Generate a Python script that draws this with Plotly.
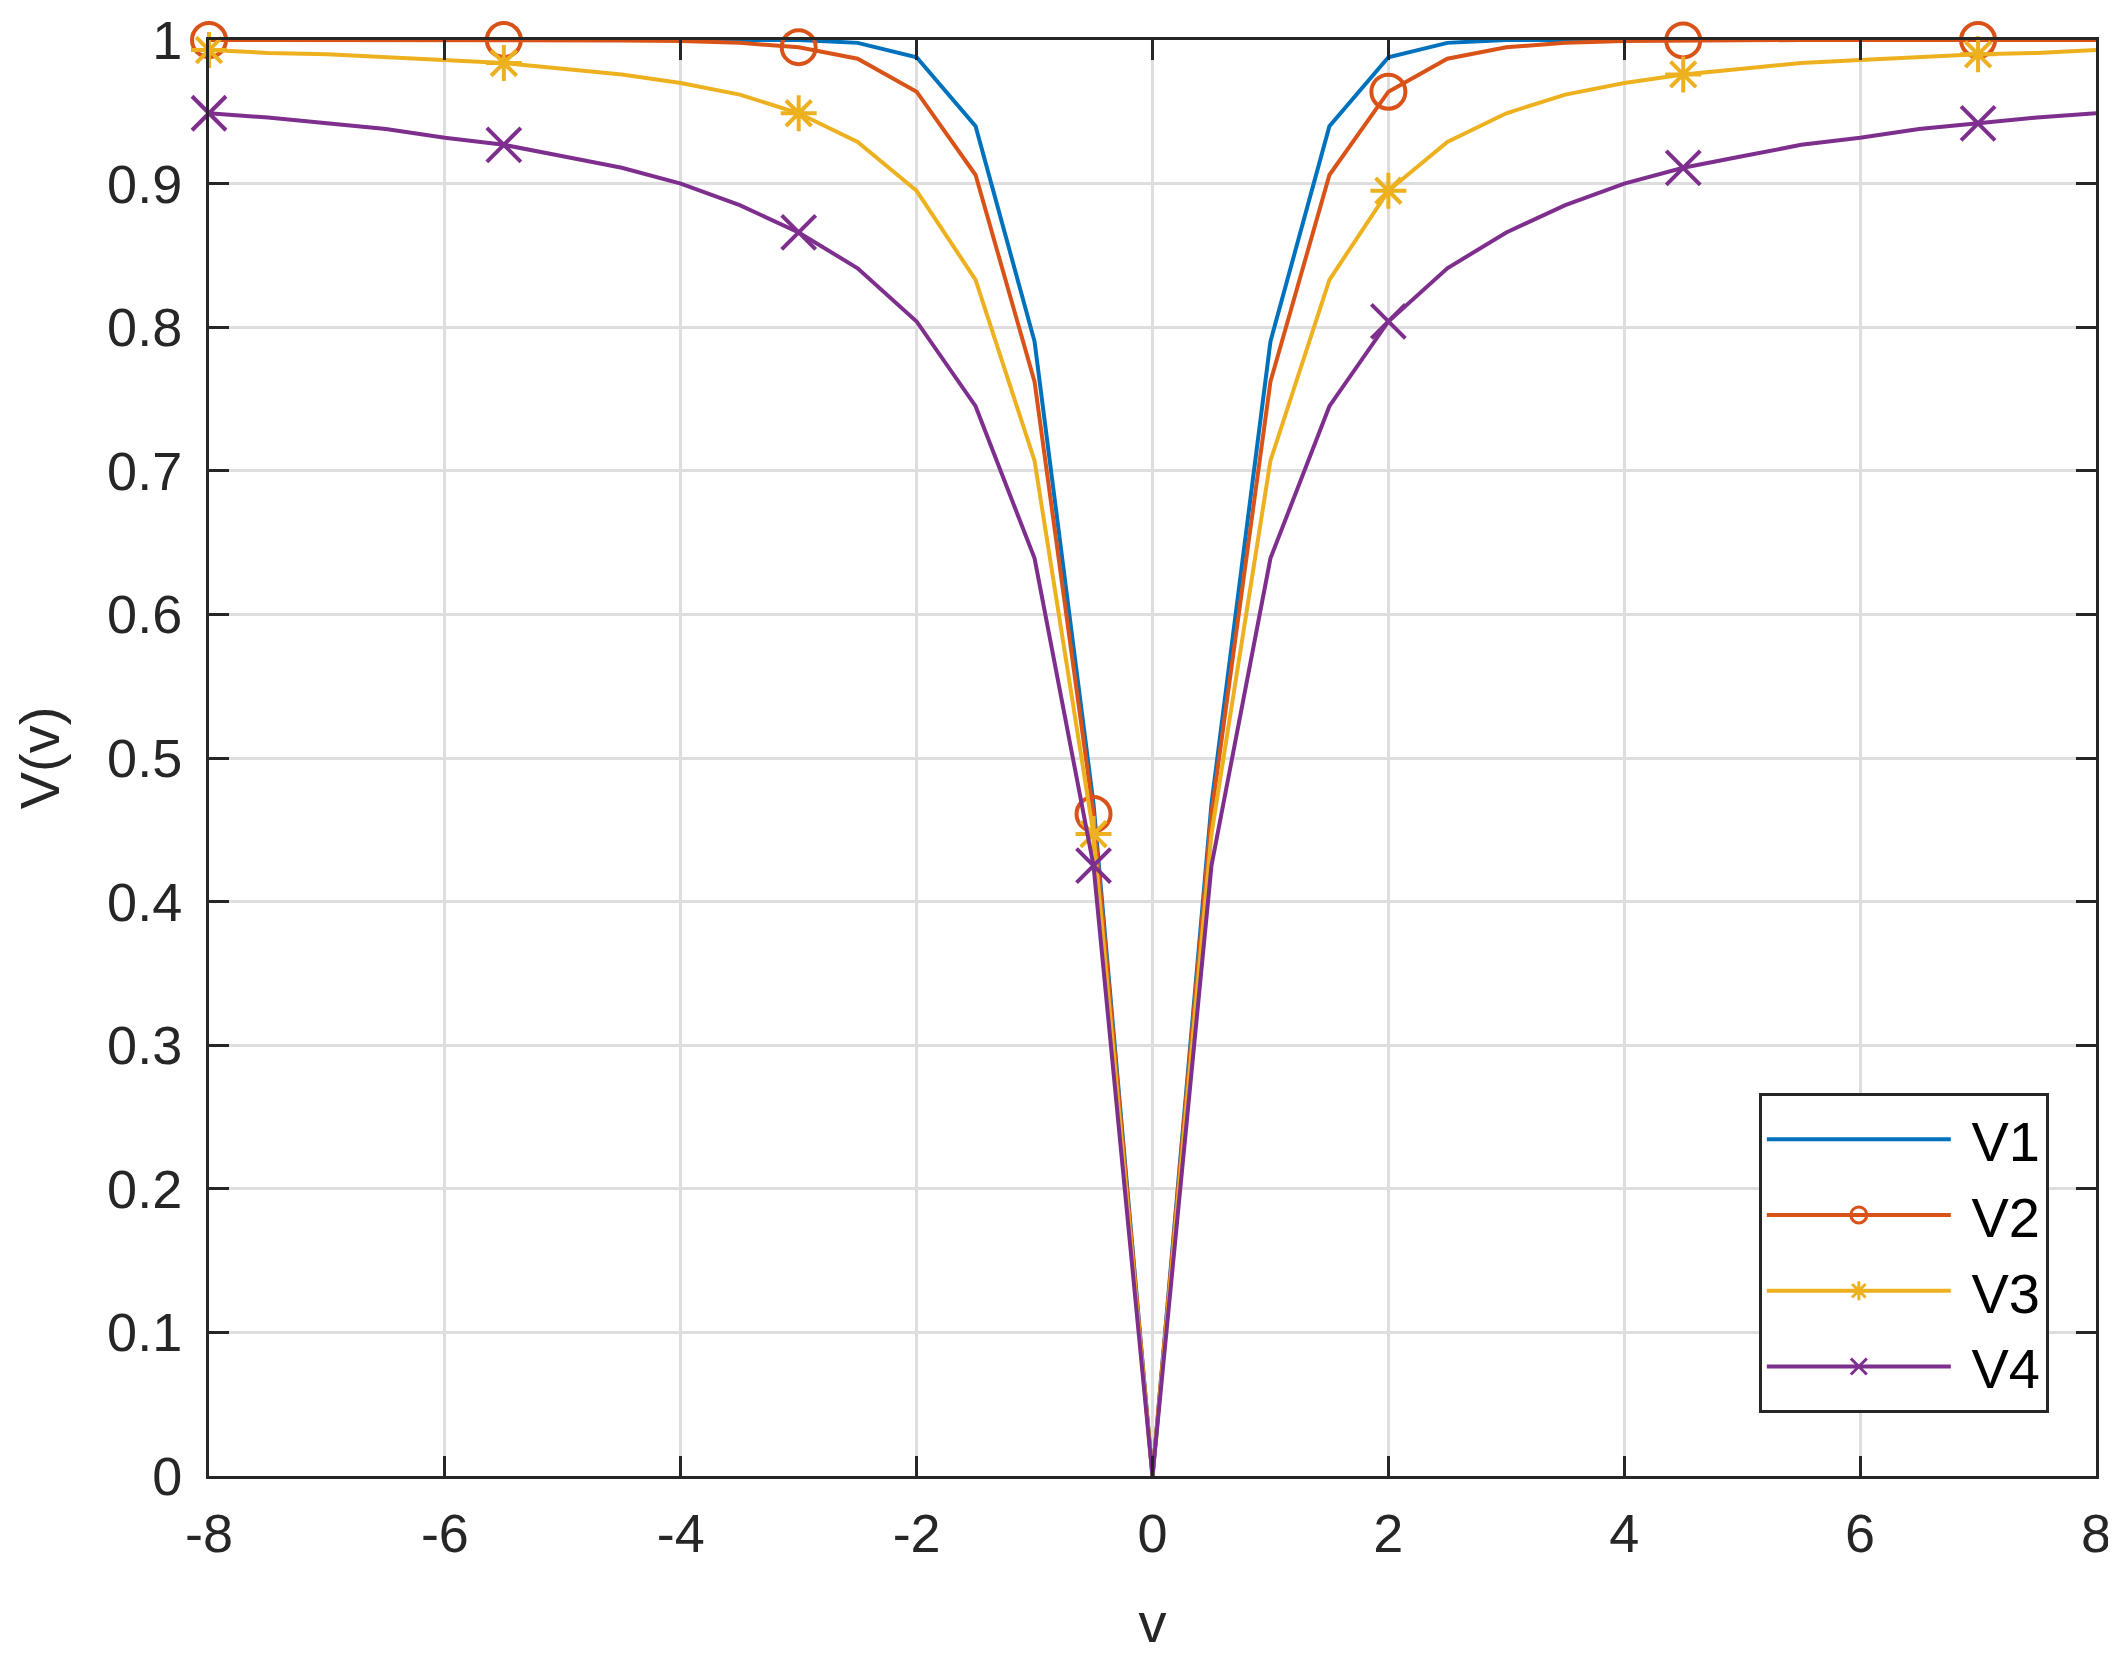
import plotly.graph_objects as go

# sample points
v = [-8, -7.5, -7, -6.5, -6, -5.5, -5, -4.5, -4, -3.5, -3, -2.5, -2, -1.5, -1, -0.5,
     0, 0.5, 1, 1.5, 2, 2.5, 3, 3.5, 4, 4.5, 5, 5.5, 6, 6.5, 7, 7.5, 8]

V1 = [1, 1, 1, 1, 1, 1, 1, 1, 1, 1, 1.0, 0.998, 0.988, 0.940, 0.790, 0.468,
      0, 0.468, 0.790, 0.940, 0.988, 0.998, 1.0, 1, 1, 1, 1, 1, 1, 1, 1, 1, 1]
V2 = [1, 1, 1, 1, 1, 1, 1, 0.9997, 0.9993, 0.998, 0.995, 0.987, 0.964, 0.906, 0.762, 0.461,
      0, 0.461, 0.762, 0.906, 0.964, 0.987, 0.995, 0.998, 0.9993, 0.9997, 1, 1, 1, 1, 1, 1, 1]
V3 = [0.993, 0.991, 0.990, 0.988, 0.986, 0.984, 0.980, 0.976, 0.970, 0.962, 0.949, 0.929, 0.895, 0.833, 0.707, 0.447,
      0, 0.447, 0.707, 0.833, 0.895, 0.929, 0.949, 0.962, 0.970, 0.976, 0.980, 0.984, 0.986, 0.988, 0.990, 0.991, 0.993]
V4 = [0.949, 0.946, 0.942, 0.938, 0.932, 0.927, 0.919, 0.911, 0.900, 0.885, 0.866, 0.841, 0.804, 0.745, 0.639, 0.425,
      0, 0.425, 0.639, 0.745, 0.804, 0.841, 0.866, 0.885, 0.900, 0.911, 0.919, 0.927, 0.932, 0.938, 0.942, 0.946, 0.949]

names = ['V1', 'V2', 'V3', 'V4']
colors = ['#0072BD', '#D95319', '#EDB120', '#7E2F8E']
symbols = [None, 'circle-open', 'asterisk-open', 'x-thin-open']
msizes = [0, 34, 30, 34]
marker_step = 5  # a marker on every 5th sample

x_ticks = [-8, -6, -4, -2, 0, 2, 4, 6, 8]
x_ticktext = ['-8', '-6', '-4', '-2', '0', '2', '4', '6', '8']
y_ticks = [0, 0.1, 0.2, 0.3, 0.4, 0.5, 0.6, 0.7, 0.8, 0.9, 1]
y_ticktext = ['0', '0.1', '0.2', '0.3', '0.4', '0.5', '0.6', '0.7', '0.8', '0.9', '1']

AX = '#262626'
FONT = 'Arial, Liberation Sans, sans-serif'

fig = go.Figure()

for name, ys, col, sym, ms in zip(names, [V1, V2, V3, V4], colors, symbols, msizes):
    fig.add_trace(go.Scatter(x=v, y=ys, mode='lines', line=dict(color=col, width=4),
                             showlegend=False, cliponaxis=False))
    if sym:
        fig.add_trace(go.Scatter(x=v[::marker_step], y=ys[::marker_step], mode='markers',
                                 marker=dict(symbol=sym, size=ms, color=col,
                                             line=dict(color=col, width=4)),
                                 showlegend=False, cliponaxis=False))
    # legend entry (line + marker sample)
    fig.add_trace(go.Scatter(x=[None], y=[None], name=' ' + name,
                             mode='lines+markers' if sym else 'lines',
                             line=dict(color=col, width=4),
                             marker=dict(symbol=sym or 'circle', size=ms, color=col,
                                         line=dict(color=col, width=3))))

fig.update_layout(
    width=2116, height=1660,
    template='plotly_white',
    plot_bgcolor='white', paper_bgcolor='white',
    margin=dict(l=201, r=28, t=32, b=192),
    font=dict(family=FONT, size=54, color=AX),
    showlegend=True,
    legend=dict(x=0.975, y=0.0437, xanchor='right', yanchor='bottom',
                bgcolor='white', bordercolor=AX, borderwidth=3,
                font=dict(size=56, color='black'), itemwidth=184,
                tracegroupgap=0),
)

fig.update_xaxes(
    range=[-8, 8], tickvals=x_ticks, ticktext=x_ticktext,
    showline=True, linecolor=AX, linewidth=3, mirror='ticks',
    ticks='inside', ticklen=20, tickwidth=3, tickcolor=AX,
    showgrid=True, gridcolor='#dedede', gridwidth=3, zeroline=False,
    title=dict(text='v', standoff=42, font=dict(size=56)),
    tickfont=dict(size=54), ticklabelstandoff=8, ticklabeloverflow='allow',
    automargin='bottom',
)
fig.update_yaxes(
    range=[0, 1], tickvals=y_ticks, ticktext=y_ticktext,
    showline=True, linecolor=AX, linewidth=3, mirror='ticks',
    ticks='inside', ticklen=20, tickwidth=3, tickcolor=AX,
    showgrid=True, gridcolor='#dedede', gridwidth=3, zeroline=False,
    title=dict(text='V(v)', standoff=30, font=dict(size=56)),
    tickfont=dict(size=54), ticklabelstandoff=13, ticklabeloverflow='allow',
    automargin='left',
)

fig.write_html('out.html')
